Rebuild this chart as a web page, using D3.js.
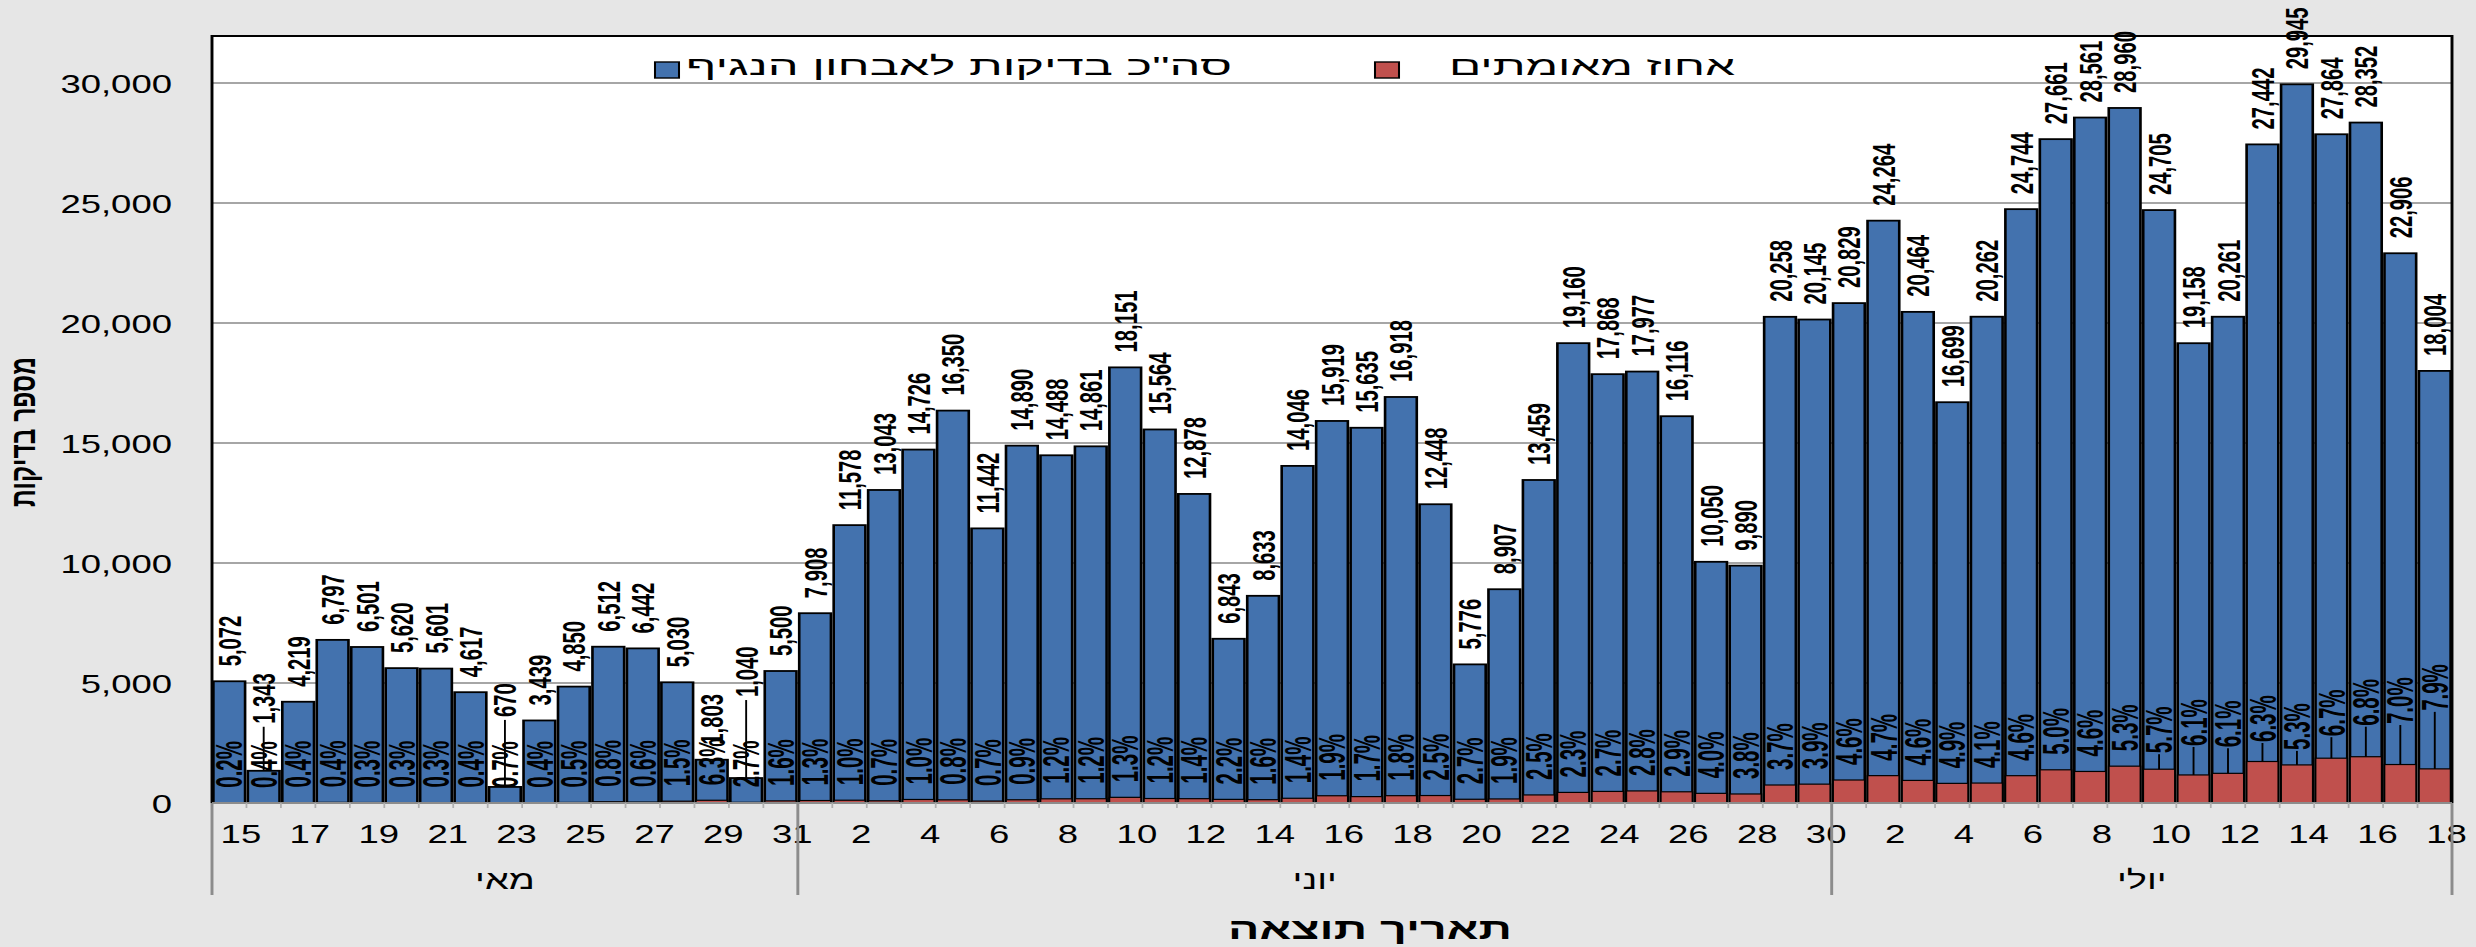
<!DOCTYPE html>
<html><head><meta charset="utf-8">
<script src="https://cdn.jsdelivr.net/npm/d3@7"></script>
<style>html,body{margin:0;padding:0;background:#e6e6e6;overflow:hidden}</style>
</head><body>
<svg id="chart"></svg>
<script>
// ---------------- DATA ----------------
const categories = [
  "15/05","16/05","17/05","18/05","19/05","20/05","21/05","22/05","23/05","24/05","25/05","26/05","27/05","28/05","29/05","30/05","31/05",
  "01/06","02/06","03/06","04/06","05/06","06/06","07/06","08/06","09/06","10/06","11/06","12/06","13/06","14/06","15/06","16/06","17/06","18/06","19/06","20/06","21/06","22/06","23/06","24/06","25/06","26/06","27/06","28/06","29/06","30/06",
  "01/07","02/07","03/07","04/07","05/07","06/07","07/07","08/07","09/07","10/07","11/07","12/07","13/07","14/07","15/07","16/07","17/07","18/07"
];
const tests = [
  5072,1343,4219,6797,6501,5620,5601,4617,670,3439,4850,6512,6442,5030,1803,1040,5500,
  7908,11578,13043,14726,16350,11442,14890,14488,14861,18151,15564,12878,6843,8633,14046,15919,15635,16918,12448,5776,8907,13459,19160,17868,17977,16116,10050,9890,20258,20145,
  20829,24264,20464,16699,20262,24744,27661,28561,28960,24705,19158,20261,27442,29945,27864,28352,22906,18004
];
const positives = [
  10,5,17,27,20,17,17,18,5,14,24,52,39,75,114,28,88,
  103,116,91,147,131,80,134,174,178,236,187,180,151,138,197,302,266,305,311,156,169,336,441,482,503,467,402,376,750,786,
  958,1140,941,818,831,1138,1383,1314,1535,1408,1169,1236,1729,1587,1867,1928,1603,1422
];
const positivePct = [
  0.2,0.4,0.4,0.4,0.3,0.3,0.3,0.4,0.7,0.4,0.5,0.8,0.6,1.5,6.3,2.7,1.6,
  1.3,1.0,0.7,1.0,0.8,0.7,0.9,1.2,1.2,1.3,1.2,1.4,2.2,1.6,1.4,1.9,1.7,1.8,2.5,2.7,1.9,2.5,2.3,2.7,2.8,2.9,4.0,3.8,3.7,3.9,
  4.6,4.7,4.6,4.9,4.1,4.6,5.0,4.6,5.3,5.7,6.1,6.1,6.3,5.3,6.7,6.8,7.0,7.9
];
const yTicks = [0,5000,10000,15000,20000,25000,30000];
const monthKeys = ["05","06","07"];
const monthNames = ["מאי","יוני","יולי"];
const seriesNames = ['סה"כ בדיקות לאבחון הנגיף','אחוז מאומתים'];
const yTitle = "מספר בדיקות";
const xTitle = "תאריך תוצאה";

// ---------------- LAYOUT ----------------
const W = 2476, H = 947, S = 1.46, DW = W / S;
const FONT = "'Liberation Sans', Arial, 'DejaVu Sans', sans-serif";
const plot = {left: 212 / S, right: 2452 / S, top: 36, bottom: 803};
const colors = {blue: "#4372ae", red: "#c0504d", bg: "#e6e6e6", grid: "#a6a6a6"};
// manual label nudges (pixels) with leader lines, as in the reference
const numLabelLift = {1: 32, 8: 55, 15: 66};
const pctLabelLift = {56: 1, 57: 14, 58: 11, 59: 4.5, 60: 0, 61: 7, 62: 16, 63: 25.5, 64: 43};
const LABEL_GAP = 15;

const svg = d3.select("#chart")
  .attr("width", W).attr("height", H)
  .attr("viewBox", `0 0 ${DW} ${H}`)
  .attr("preserveAspectRatio", "none")
  .style("display", "block");

svg.append("rect").attr("width", DW).attr("height", H).attr("fill", colors.bg);

const x = d3.scaleBand().domain(d3.range(categories.length))
  .range([plot.left, plot.right]).paddingInner(0.08).paddingOuter(0.04);
const y = d3.scaleLinear().domain([0, 32000]).range([plot.bottom, plot.bottom - 768]);
const cx = i => x(i) + x.bandwidth() / 2;
const boundary = i => (i < categories.length ? x(i) - (x.step() - x.bandwidth()) / 2 : plot.right);

// plot area
svg.append("rect").attr("x", plot.left).attr("y", plot.top)
  .attr("width", plot.right - plot.left).attr("height", plot.bottom - plot.top).attr("fill", "#fff");

// gridlines
svg.append("g").selectAll("line").data(yTicks.filter(t => t > 0)).join("line")
  .attr("x1", plot.left).attr("x2", plot.right)
  .attr("y1", d => y(d)).attr("y2", d => y(d))
  .attr("stroke", colors.grid).attr("stroke-width", 2);

// y axis labels via d3 axis
const yAxis = svg.append("g").attr("transform", `translate(${plot.left},0)`)
  .call(d3.axisLeft(y).tickValues(yTicks).tickFormat(d3.format(",")).tickSize(0).tickPadding(212/S - 172/S));
yAxis.select(".domain").remove();
yAxis.selectAll("text").attr("font-family", FONT).attr("font-size", 25).attr("fill", "#000")
  .attr("dy", "0.36em");

// blue bars
svg.append("g").selectAll("rect").data(tests).join("rect")
  .attr("x", (d, i) => x(i)).attr("y", d => y(d))
  .attr("width", x.bandwidth()).attr("height", d => y(0) - y(d))
  .attr("fill", colors.blue).attr("stroke", "#000").attr("stroke-width", 1.8);

// red bars
svg.append("g").selectAll("rect").data(positives).join("rect")
  .attr("x", (d, i) => x(i)).attr("y", d => y(d))
  .attr("width", x.bandwidth()).attr("height", d => y(0) - y(d))
  .attr("fill", colors.red).attr("stroke", "#000").attr("stroke-width", 1.2);

// plot border (left, top, right) and axis line
svg.append("path")
  .attr("d", `M${plot.left},${plot.bottom}V${plot.top}H${plot.right}V${plot.bottom}`)
  .attr("fill", "none").attr("stroke", "#000").attr("stroke-width", 2);
svg.append("line").attr("x1", plot.left).attr("x2", plot.right)
  .attr("y1", plot.bottom).attr("y2", plot.bottom).attr("stroke", "#8c8c8c").attr("stroke-width", 2);

// category tick marks
svg.append("g").selectAll("line").data(d3.range(1, categories.length)).join("line")
  .attr("x1", i => boundary(i)).attr("x2", i => boundary(i))
  .attr("y1", plot.bottom).attr("y2", plot.bottom + 5)
  .attr("stroke", "#b0b0b0").attr("stroke-width", 1.2);

// value labels (tests)
const fmt = d3.format(",");
const numG = svg.append("g");
numG.selectAll("text").data(tests).join("text")
  .attr("transform", (d, i) => `translate(${cx(i)},${y(d) - LABEL_GAP - (numLabelLift[i] || 0)}) rotate(-90) scale(0.92,1)`)
  .attr("dy", "0.36em").attr("font-family", FONT).attr("font-weight", "bold")
  .attr("font-size", 22).attr("fill", "#000").text(d => fmt(d));
numG.selectAll("line").data(Object.keys(numLabelLift).map(Number)).join("line")
  .attr("x1", i => cx(i)).attr("x2", i => cx(i))
  .attr("y1", i => y(tests[i]) - LABEL_GAP - numLabelLift[i] + 3)
  .attr("y2", i => y(tests[i]))
  .attr("stroke", "#000").attr("stroke-width", 1.3);

// percentage labels
const pctG = svg.append("g");
pctG.selectAll("text").data(positivePct).join("text")
  .attr("transform", (d, i) => `translate(${cx(i)},${y(positives[i]) - LABEL_GAP - (pctLabelLift[i] || 0)}) rotate(-90) scale(0.82,1)`)
  .attr("dy", "0.36em").attr("font-family", FONT).attr("font-weight", "bold")
  .attr("font-size", 25).attr("fill", "#000").text(d => d.toFixed(1) + "%");
pctG.selectAll("line").data(Object.keys(pctLabelLift).map(Number)).join("line")
  .attr("x1", i => cx(i)).attr("x2", i => cx(i))
  .attr("y1", i => y(positives[i]) - LABEL_GAP - pctLabelLift[i] + 1)
  .attr("y2", i => y(positives[i]))
  .attr("stroke", "#000").attr("stroke-width", 1.3);

// x tick labels (every other day)
svg.append("g").selectAll("text").data(d3.range(0, categories.length, 2)).join("text")
  .attr("x", i => cx(i) + 8).attr("y", 843)
  .attr("text-anchor", "middle").attr("font-family", FONT).attr("font-size", 25).attr("fill", "#000")
  .text(i => +categories[i].split("/")[0]);

// month groups
const monthRanges = monthKeys.map((k, m) => {
  const idx = categories.map((c, i) => [c, i]).filter(([c]) => c.split("/")[1] === k).map(([, i]) => i);
  return {name: monthNames[m], start: idx[0], end: idx[idx.length - 1]};
});
const sepIdx = [...monthRanges.map(r => r.start), categories.length];
svg.append("g").selectAll("line").data(sepIdx).join("line")
  .attr("x1", i => boundary(i)).attr("x2", i => boundary(i))
  .attr("y1", plot.bottom).attr("y2", 895)
  .attr("stroke", "#8c8c8c").attr("stroke-width", 2);
svg.append("g").selectAll("text").data(monthRanges).join("text")
  .attr("x", r => (boundary(r.start) + boundary(r.end + 1)) / 2).attr("y", 889)
  .attr("text-anchor", "middle").attr("font-family", FONT).attr("font-size", 26).attr("fill", "#000")
  .text(r => r.name);

// axis titles
svg.append("text").attr("x", 1370 / S).attr("y", 939)
  .attr("text-anchor", "middle").attr("font-family", FONT).attr("font-weight", "bold")
  .attr("font-size", 29).attr("textLength", 284 / S).attr("lengthAdjust", "spacingAndGlyphs")
  .attr("fill", "#000").text(xTitle);
svg.append("text").attr("transform", `translate(${23 / S},432) rotate(-90)`)
  .attr("dy", "0.35em").attr("text-anchor", "middle").attr("font-family", FONT).attr("font-weight", "bold")
  .attr("font-size", 24).attr("textLength", 150).attr("lengthAdjust", "spacingAndGlyphs")
  .attr("fill", "#000").text(yTitle);

// legend
const legendItems = [
  {name: seriesNames[0], color: colors.blue, sq: 655, t0: 686, t1: 1232},
  {name: seriesNames[1], color: colors.red, sq: 1375, t0: 1449, t1: 1735}
];
const lg = svg.append("g");
lg.selectAll("rect").data(legendItems).join("rect")
  .attr("x", d => d.sq / S).attr("y", 62).attr("width", 24 / S).attr("height", 16)
  .attr("fill", d => d.color).attr("stroke", "#000").attr("stroke-width", 1.4);
lg.selectAll("text").data(legendItems).join("text")
  .attr("x", d => (d.t0 + d.t1) / 2 / S).attr("y", 75)
  .attr("text-anchor", "middle").attr("font-family", FONT).attr("font-size", 26).attr("fill", "#000")
  .attr("textLength", d => (d.t1 - d.t0) / S).attr("lengthAdjust", "spacingAndGlyphs")
  .text(d => d.name);
</script>
</body></html>
